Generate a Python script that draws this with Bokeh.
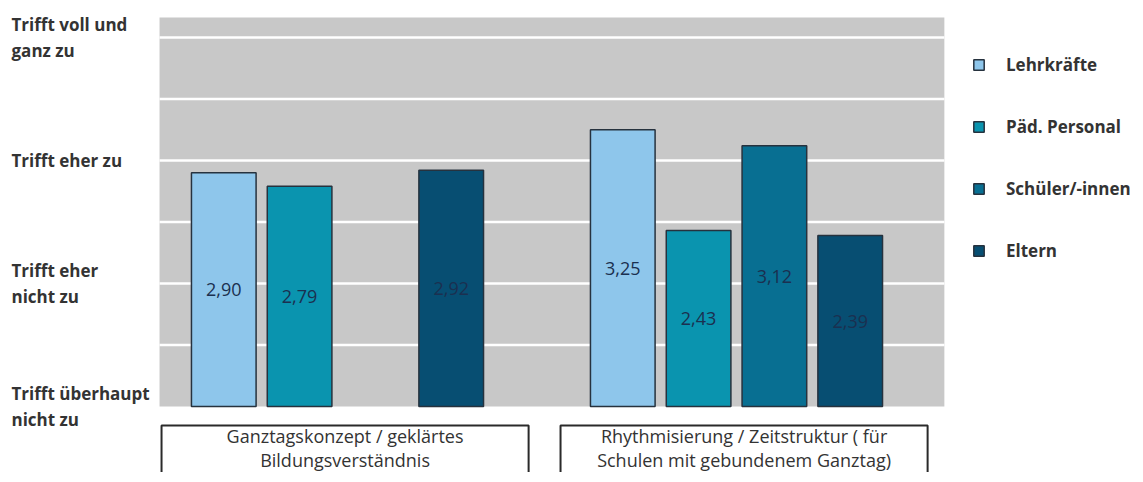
from bokeh.plotting import figure
from bokeh.models import Range1d, BoxAnnotation, Legend, LegendItem, ColumnDataSource
from bokeh.embed import file_html
from bokeh.resources import INLINE
from bokeh.core.properties import value

# ---------------- data ----------------
categories = ["Ganztagskonzept / geklärtes\nBildungsverständnis",
              "Rhythmisierung / Zeitstruktur ( für\nSchulen mit gebundenem Ganztag)"]
series = ["Lehrkräfte", "Päd. Personal", "Schüler/-innen", "Eltern"]
lehrkraefte = [2.90, 3.25]
paed_personal = [2.79, 2.43]
schueler = [None, 3.12]
eltern = [2.92, 2.39]
colors = ["#8EC6EB", "#0A94AF", "#086F92", "#074E72"]
scale_ticks = [1, 2, 3, 4]
scale_labels = ["Trifft überhaupt\nnicht zu", "Trifft eher\nnicht zu",
                "Trifft eher zu", "Trifft voll und\nganz zu"]

values = [lehrkraefte, paed_personal, schueler, eltern]

# ---------------- layout ----------------
W, H = 1130, 472
PITCH = 0.19          # distance between bars within a group
BAR_W = 0.162
X_MIN, X_MAX = -0.8446, 1.9875    # whole canvas
PLOT_L, PLOT_R = -0.446, 1.521    # gray plotting area
Y_MIN, Y_MAX = 0.4634, 4.3008
PLOT_TOP = 4.163
FONT = value("Open Sans")
TXT = "#333333"

p = figure(width=W, height=H,
           x_range=Range1d(X_MIN, X_MAX), y_range=Range1d(Y_MIN, Y_MAX),
           output_backend="svg", toolbar_location=None,
           x_axis_location=None, y_axis_location=None,
           min_border=0)
p.outline_line_color = None
p.background_fill_color = "white"
p.border_fill_color = "white"
p.grid.visible = False

# gray plot background
p.add_layout(BoxAnnotation(left=PLOT_L, right=PLOT_R, bottom=1, top=PLOT_TOP,
                           fill_color="#C8C8C8", fill_alpha=1.0,
                           line_color=None, level="image"))

# white horizontal grid lines
grid_y = [1.5, 2, 2.5, 3, 3.5, 4]
p.segment(x0=PLOT_L, x1=PLOT_R, y0=grid_y, y1=grid_y,
          line_color="white", line_width=2.5, level="underlay")

# scale labels (left, left-aligned)
p.text(x=-0.817, y=scale_ticks, text=scale_labels,
       text_align="left", text_baseline="middle", text_font=FONT,
       text_font_size="17px", text_font_style="bold", text_color=TXT,
       text_line_height=1.1)

items = []
n = len(series)
for i, (name, vals, col) in enumerate(zip(series, values, colors)):
    xs, tops, mids, labels = [], [], [], []
    for g, v in enumerate(vals):
        if v is None:
            continue
        xs.append(g + (i - (n - 1) / 2) * PITCH)
        tops.append(v)
        mids.append((v + 1) / 2)
        labels.append(f"{v:.2f}".replace(".", ","))
    src = ColumnDataSource(dict(x=xs, top=tops, mid=mids, label=labels))
    r = p.vbar(x="x", top="top", bottom=1, width=BAR_W, source=src,
               fill_color=col, line_color="#26323E", line_width=1.5)
    p.text(x="x", y="mid", text="label", source=src, text_align="center",
           text_baseline="middle", text_font=FONT, text_font_size="18px",
           text_color="#1B3050")
    items.append(LegendItem(label=name, renderers=[r]))

# category boxes below the plot area
gx = [g + 0.019 for g in range(len(categories))]
box_src = ColumnDataSource(dict(
    left=[c - 0.46 for c in gx], right=[c + 0.46 for c in gx],
    cx=gx, label=categories))
p.quad(left="left", right="right", top=0.846, bottom=0.2, source=box_src,
       fill_color="white", line_color="#2A2A2A", line_width=2)
p.text(x="cx", y=0.662, text="label", source=box_src, text_align="center",
       text_baseline="middle", text_font=FONT, text_font_size="18px",
       text_color=TXT, text_line_height=1.0)

legend = Legend(items=items, location=(972, 210), orientation="vertical",
                margin=0, padding=0, spacing=39,
                label_height=20, glyph_height=13, glyph_width=13,
                label_standoff=21, label_text_font="Open Sans",
                label_text_font_size="17px", label_text_font_style="bold",
                label_text_color=TXT,
                background_fill_alpha=0, border_line_color=None)
p.add_layout(legend)

open("out.html", "w").write(file_html(p, INLINE))
